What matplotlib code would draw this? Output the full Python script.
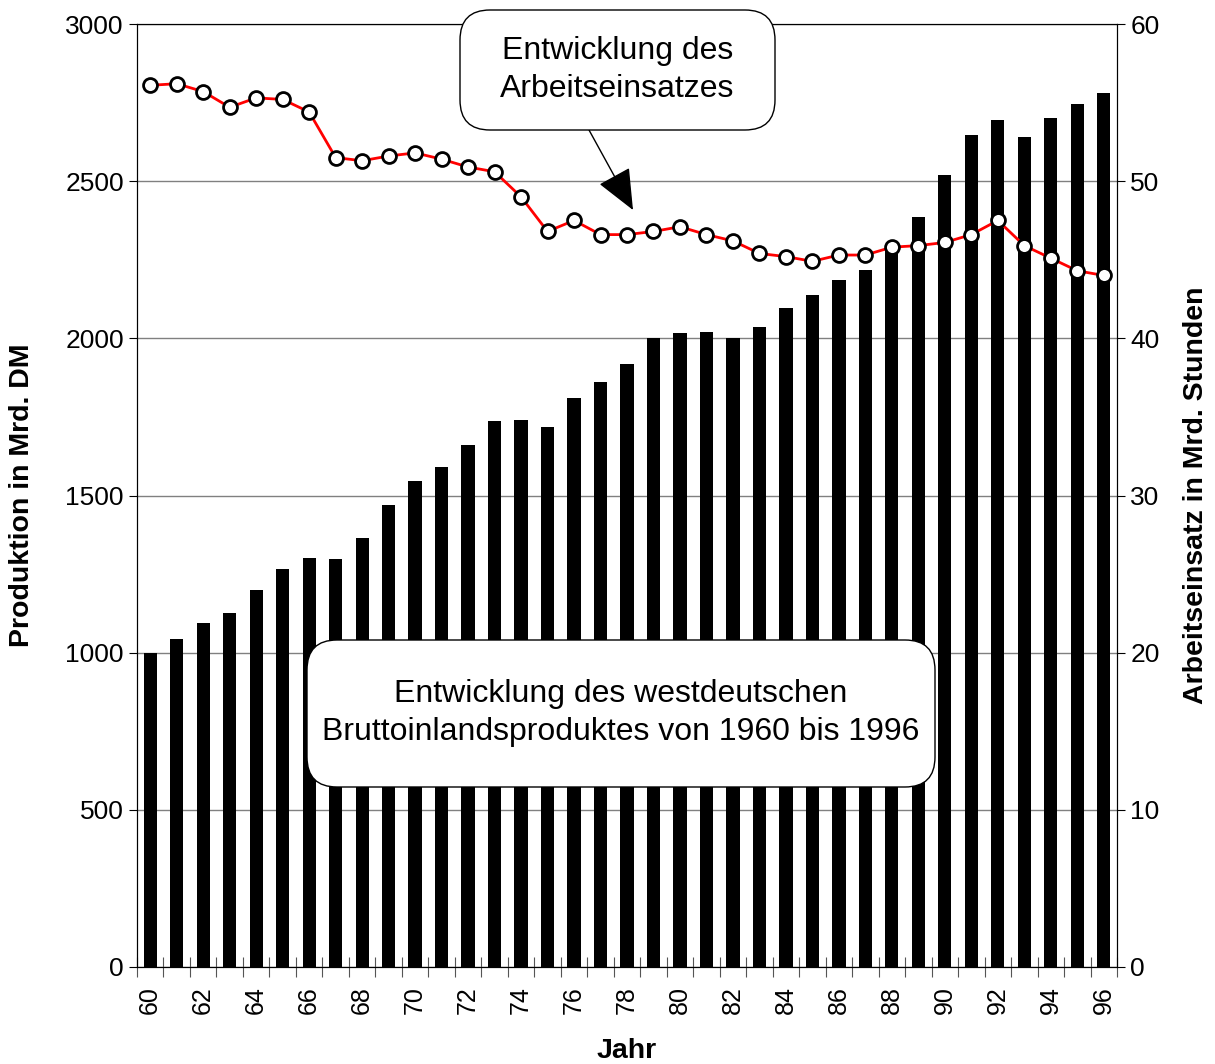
import numpy as np
import matplotlib.pyplot as plt
from matplotlib.patches import FancyBboxPatch

plt.rcParams['font.family'] = ['Liberation Sans', 'DejaVu Sans']

# data
jahre = np.arange(60, 97)
produktion = [1000, 1045, 1095, 1125, 1200, 1265, 1300, 1298, 1365, 1470,
              1545, 1590, 1660, 1738, 1740, 1718, 1810, 1860, 1918, 2000,
              2018, 2020, 2000, 2035, 2095, 2138, 2185, 2218, 2290, 2385,
              2520, 2648, 2695, 2642, 2700, 2745, 2780]
arbeit = [56.1, 56.2, 55.7, 54.7, 55.3, 55.2, 54.4, 51.5, 51.3, 51.6,
          51.8, 51.4, 50.9, 50.6, 49.0, 46.8, 47.5, 46.6, 46.6, 46.8,
          47.1, 46.6, 46.2, 45.4, 45.2, 44.9, 45.3, 45.3, 45.8, 45.9,
          46.1, 46.6, 47.5, 45.9, 45.1, 44.3, 44.0]

fig = plt.figure(figsize=(12.15, 10.64), dpi=100)
ax = fig.add_axes([137/1215, 97/1064, 980/1215, 943/1064])
pos = np.arange(len(jahre))

ax.bar(pos, produktion, width=0.5, color='black', zorder=2)
ax.set_xlim(-0.5, len(jahre) - 0.5)
ax.set_ylim(0, 3000)
ax.set_yticks(np.arange(0, 3001, 500))
ax.yaxis.grid(True, color='#808080', lw=1)
ax.set_axisbelow(True)

# ticks on category boundaries, labels on every second year
ax.set_xticks(np.arange(-0.5, len(jahre), 1))
ax.set_xticklabels([])
ax.set_xticks(pos[::2], minor=True)
ax.set_xticklabels([str(j) for j in jahre[::2]], minor=True, rotation=90)
ax.tick_params(axis='x', which='major', direction='inout', length=14, color='#555555')
ax.tick_params(axis='x', which='minor', length=0, pad=14, labelsize=18)
ax.tick_params(axis='y', direction='out', length=6, labelsize=19)
ax.set_ylabel('Produktion in Mrd. DM', fontsize=20.5, fontweight='bold')
ax.yaxis.set_label_coords(-0.104, 0.5)
ax.set_xlabel('Jahr', fontsize=20.5, fontweight='bold')
ax.xaxis.set_label_coords(0.5, -0.075)

ax2 = ax.twinx()
ax2.plot(pos, arbeit, color='red', lw=2, marker='o', ms=10,
         mfc='white', mec='black', mew=2)
ax2.set_ylim(0, 60)
ax2.set_yticks(np.arange(0, 61, 10))
ax2.tick_params(axis='y', direction='out', length=6, labelsize=19)
ax2.set_ylabel('Arbeitseinsatz in Mrd. Stunden', fontsize=20.5, fontweight='bold')
ax2.yaxis.set_label_coords(1.067, 0.5)

# rounded text boxes (in inches so the corners stay round)
box1 = FancyBboxPatch((4.60, 9.34), 3.15, 1.20, boxstyle='round,pad=0,rounding_size=0.3',
                      transform=fig.dpi_scale_trans, fc='white', ec='black', lw=1, zorder=5)
box2 = FancyBboxPatch((3.07, 2.77), 6.28, 1.47, boxstyle='round,pad=0,rounding_size=0.3',
                      transform=fig.dpi_scale_trans, fc='white', ec='black', lw=1, zorder=5)
fig.patches.extend([box1, box2])
fig.text(617.5/1215, 994/1064, 'Entwicklung des\nArbeitseinsatzes', ha='center', va='center',
         fontsize=23, linespacing=1.35, zorder=6)
fig.text(621/1215, 351/1064, 'Entwicklung des westdeutschen\nBruttoinlandsproduktes von 1960 bis 1996',
         ha='center', va='center', fontsize=23, linespacing=1.35, zorder=6)
fig.add_artist(plt.Annotation('', xy=(633, 854), xytext=(589, 934),
                              xycoords='figure pixels', textcoords='figure pixels',
                              arrowprops=dict(arrowstyle='-|>,head_length=0.65,head_width=0.28',
                                              mutation_scale=40, lw=1, color='black',
                                              shrinkA=0, shrinkB=0)))

fig.savefig('out.png', dpi=100)
